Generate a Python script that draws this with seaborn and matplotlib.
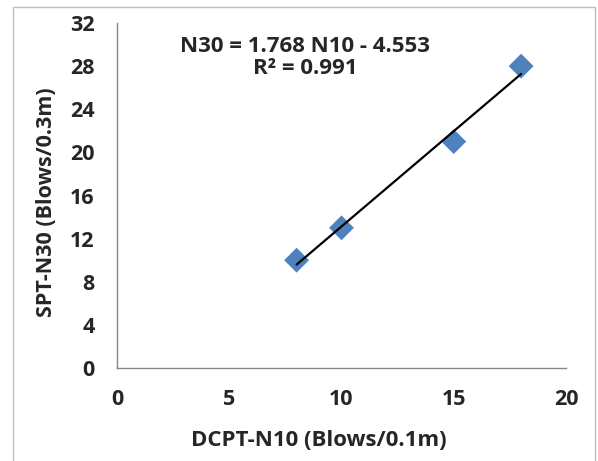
import numpy as np
import pandas as pd
import seaborn as sns
import matplotlib
matplotlib.use("Agg")
import matplotlib.pyplot as plt
from matplotlib.patches import Rectangle

# Measured values
n10 = [8, 10, 15, 18]
n30 = [10, 13, 21, 28]
slope = 1.768
intercept = -4.553
r2 = 0.991
x_ticks = [0, 5, 10, 15, 20]
y_ticks = [0, 4, 8, 12, 16, 20, 24, 28, 32]

df = pd.DataFrame({"N10": n10, "N30": n30})

sns.set_style("white")
plt.rcParams["font.family"] = ["Open Sans", "DejaVu Sans"]
plt.rcParams["font.weight"] = "bold"

W, H = 598, 461
fig = plt.figure(figsize=(W / 100, H / 100), dpi=100)
ax = fig.add_axes([117 / W, 1 - 368 / H, (566 - 117) / W, (368 - 23) / H])

# chart-area frame
fig.patches.append(Rectangle((13 / W, -0.1), (595 - 13) / W, 1.1 - 7 / H,
                             transform=fig.transFigure, fill=False,
                             edgecolor="#bfbfbf", linewidth=1.0))

sns.scatterplot(data=df, x="N10", y="N30", marker="D", s=160, color="#4f81bd",
                edgecolor="none", ax=ax, zorder=2)

# linear trend line over the data range
xl = np.array([min(n10), max(n10)])
ax.plot(xl, slope * xl + intercept, color="black", linewidth=1.6, zorder=3)

ax.set_xlim(0, 20)
ax.set_ylim(0, 32)
ax.set_xticks(x_ticks)
ax.set_yticks(y_ticks)
ax.tick_params(axis="both", which="major", direction="out", length=6, width=1.0,
               color="#868686", labelsize=15.5)
ax.tick_params(axis="x", pad=9)
ax.tick_params(axis="y", pad=10)
for lab in ax.get_xticklabels() + ax.get_yticklabels():
    lab.set_fontweight("bold")

for side in ["top", "right"]:
    ax.spines[side].set_visible(False)
for side in ["left", "bottom"]:
    ax.spines[side].set_color("#868686")
    ax.spines[side].set_linewidth(1.0)

ax.set_xlabel("DCPT-N10 (Blows/0.1m)", fontsize=16, fontweight="bold")
ax.set_ylabel("SPT-N30 (Blows/0.3m)", fontsize=15.5, fontweight="bold")
ax.xaxis.label.set_va("baseline")
ax.xaxis.set_label_coords((319 - 117) / 449, (368 - 446) / 345)
ax.yaxis.label.set_va("baseline")
ax.yaxis.set_label_coords((52 - 117) / 449, (368 - 202) / 345)

eq_x = (305 - 117) / 449
ax.text(eq_x, (368 - 52) / 345, f"N30 = {slope} N10 - {abs(intercept)}",
        transform=ax.transAxes, ha="center", va="baseline", fontsize=16,
        fontweight="bold")
ax.text(eq_x, (368 - 74) / 345, f"R² = {r2}",
        transform=ax.transAxes, ha="center", va="baseline", fontsize=16,
        fontweight="bold")

fig.savefig("out.png", dpi=100)
